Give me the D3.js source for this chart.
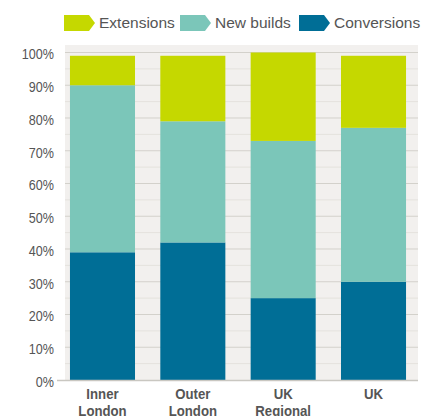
<!DOCTYPE html>
<html>
<head>
<meta charset="utf-8">
<script src="https://cdn.jsdelivr.net/npm/d3@7"></script>
<style>
  body { margin: 0; background: #fff; }
  svg { display: block; }
</style>
</head>
<body>
<div id="chart"></div>
<script>
var categories = ["Inner London", "Outer London", "UK Regional", "UK"];
var series = ["Conversions", "New builds", "Extensions"];
var conversions = [39, 42, 25, 30];
var newBuilds = [51, 37, 48, 47];
var extensions = [9, 20, 27, 22];
var yTicks = [0, 10, 20, 30, 40, 50, 60, 70, 80, 90, 100];
var legendOrder = ["Extensions", "New builds", "Conversions"];

var width = 429, height = 416;

var colors = d3.scaleOrdinal()
    .domain(series)
    .range(["#006e96", "#7bc6b9", "#c5d800"]);

var svg = d3.select("#chart").append("svg")
    .attr("width", width)
    .attr("height", height);

var rows = categories.map(function (c, i) {
    return { cat: c, "Conversions": conversions[i], "New builds": newBuilds[i], "Extensions": extensions[i] };
});

var stacked = d3.stack().keys(series)(rows);

var x = d3.scaleBand()
    .domain(categories)
    .range([65, 411])
    .paddingInner(0.28)
    .paddingOuter(0.055);

var y = d3.scaleLinear()
    .domain([0, 100])
    .range([380, 52.5]);

// plot background
svg.append("rect")
    .attr("x", 65)
    .attr("y", 45)
    .attr("width", 353)
    .attr("height", 335)
    .style("fill", "#f2f0ee");

// minor grid
svg.append("g").selectAll("line")
    .data(d3.range(5, 100, 10))
    .enter().append("line")
    .attr("x1", 65).attr("x2", 418)
    .attr("y1", function (d) { return y(d); })
    .attr("y2", function (d) { return y(d); })
    .style("stroke", "#e4e2dd")
    .style("stroke-width", 1);

// major grid
svg.append("g").selectAll("line")
    .data(yTicks.slice(1))
    .enter().append("line")
    .attr("x1", 65).attr("x2", 418)
    .attr("y1", function (d) { return y(d); })
    .attr("y2", function (d) { return y(d); })
    .style("stroke", "#d3d1cb")
    .style("stroke-width", 1);

// bars
svg.append("g").selectAll("g")
    .data(stacked)
    .enter().append("g")
    .style("fill", function (d) { return colors(d.key); })
    .selectAll("rect")
    .data(function (d) { return d; })
    .enter().append("rect")
    .attr("x", function (d) { return x(d.data.cat); })
    .attr("y", function (d) { return y(d[1]); })
    .attr("height", function (d) { return y(d[0]) - y(d[1]); })
    .attr("width", x.bandwidth());

// baseline
svg.append("line")
    .attr("x1", 57).attr("x2", 418)
    .attr("y1", 380.5).attr("y2", 380.5)
    .style("stroke", "#c9c7c1")
    .style("stroke-width", 1.5);

// y axis labels
var yAxis = svg.append("g")
    .attr("transform", "translate(54,0)")
    .call(d3.axisLeft(y).tickValues(yTicks).tickSize(0).tickPadding(0)
        .tickFormat(function (d) { return d + "%"; }));
yAxis.select(".domain").remove();
yAxis.selectAll("text")
    .attr("dy", "0.42em")
    .attr("transform", "scale(0.84,1)")
    .style("font-family", "'Liberation Sans', Arial, sans-serif")
    .style("font-size", "15px")
    .style("fill", "#555");

// x labels
var xLab = svg.append("g").selectAll("text")
    .data(categories)
    .enter().append("text")
    .attr("transform", function (d) { return "translate(" + (x(d) + x.bandwidth() / 2) + ",399) scale(0.88,1)"; })
    .attr("text-anchor", "middle")
    .style("font-family", "'Liberation Sans', Arial, sans-serif")
    .style("font-size", "15px")
    .style("font-weight", "bold")
    .style("fill", "#555");
xLab.each(function (d) {
    var words = d.split(" ");
    var t = d3.select(this);
    words.forEach(function (w, i) {
        t.append("tspan")
            .attr("x", 0)
            .attr("dy", i === 0 ? 0 : 17)
            .text(w);
    });
});

// legend
var legendX = [64, 180, 299];
var leg = svg.append("g").selectAll("g")
    .data(legendOrder)
    .enter().append("g")
    .attr("transform", function (d, i) { return "translate(" + legendX[i] + ",15)"; });
leg.append("path")
    .attr("d", "M0,0 L25,0 L31,8 L25,16 L0,16 Z")
    .style("fill", function (d) { return colors(d); });
leg.append("text")
    .attr("x", 35)
    .attr("y", 13)
    .text(function (d) { return d; })
    .style("font-family", "'Liberation Sans', Arial, sans-serif")
    .style("font-size", "15.5px")
    .style("fill", "#555");
</script>
</body>
</html>
